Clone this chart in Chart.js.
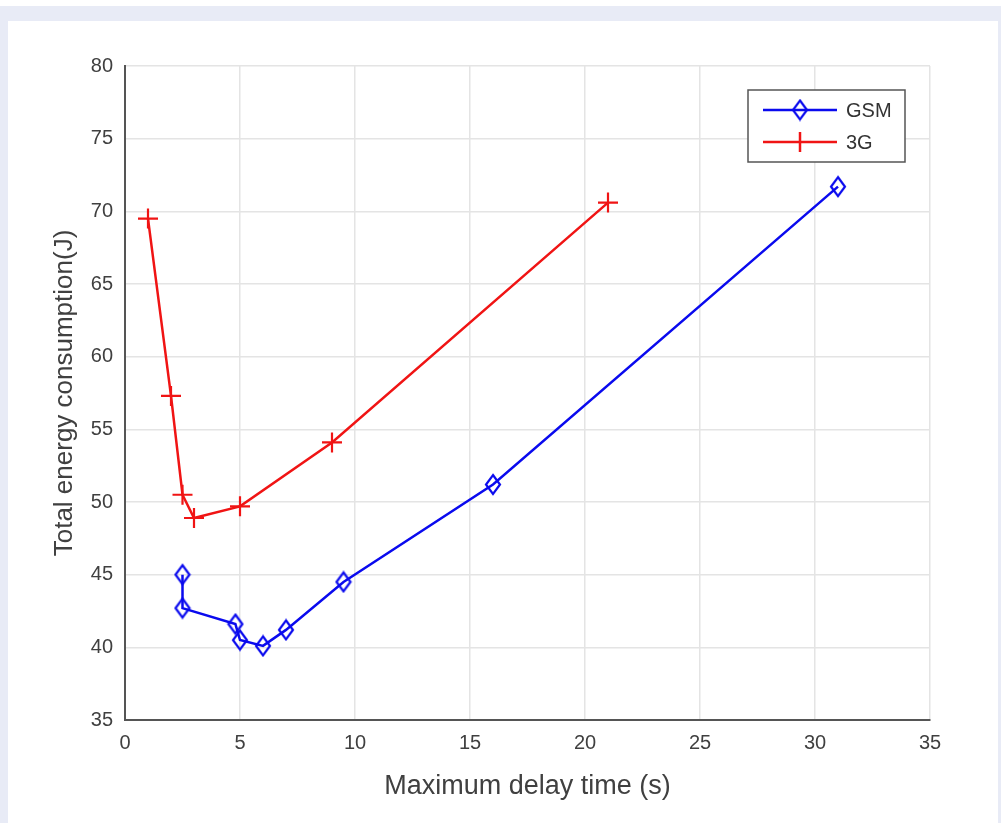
<!DOCTYPE html>
<html>
<head>
<meta charset="utf-8">
<title>Total energy consumption</title>
<script src="https://cdn.jsdelivr.net/npm/chart.js@4/dist/chart.umd.min.js"></script>
<style>
  html, body { margin: 0; padding: 0; background: #ffffff; }
  .frame { position: absolute; left: 0; top: 6px; right: 0; bottom: 0; background: #e8ebf6; }
  .panel { position: absolute; left: 8px; top: 21px; width: 990px; height: 802px; background: #ffffff; }
</style>
</head>
<body>
<div class="frame"></div>
<div class="panel"><canvas id="energyChart"></canvas></div>
<script>
// Data
const gsmDelay = [2.5, 2.5, 4.8, 5, 6, 7, 9.5, 16, 31];
const gsmEnergy = [45.0, 42.7, 41.6, 40.5, 40.1, 41.2, 44.5, 51.2, 71.7];
const g3Delay = [1, 2, 2.5, 3, 5, 9, 21];
const g3Energy = [69.5, 57.3, 50.5, 48.9, 49.7, 54.1, 70.6];
const xTicks = [0, 5, 10, 15, 20, 25, 30, 35];
const yTicks = [35, 40, 45, 50, 55, 60, 65, 70, 75, 80];
const seriesNames = ['GSM', '3G'];

const BLUE = '#0a0aee';
const RED = '#f01414';
const FONT = "'Liberation Sans', Arial, sans-serif";

function toPoints(xs, ys) {
    return xs.map((x, i) => ({ x: x, y: ys[i] }));
}

// MATLAB style diamond (a bit taller than wide)
function makeDiamond(w, h, color) {
    const c = document.createElement('canvas');
    c.width = w + 4;
    c.height = h + 4;
    const g = c.getContext('2d');
    g.strokeStyle = color;
    g.lineWidth = 2.2;
    g.beginPath();
    g.moveTo(c.width / 2, 2);
    g.lineTo(c.width - 2, c.height / 2);
    g.lineTo(c.width / 2, c.height - 2);
    g.lineTo(2, c.height / 2);
    g.closePath();
    g.stroke();
    return c;
}
const diamond = makeDiamond(14, 19, BLUE);

// Legend box inside the axes, top right
const boxLegend = {
    id: 'boxLegend',
    afterDraw(chart) {
        const { ctx, chartArea } = chart;
        const right = chartArea.right - 25;
        const top = chartArea.top + 24;
        const w = 157, h = 72;
        const left = right - w;
        ctx.save();
        ctx.fillStyle = '#ffffff';
        ctx.fillRect(left, top, w, h);
        ctx.strokeStyle = '#555555';
        ctx.lineWidth = 1.5;
        ctx.strokeRect(left, top, w, h);
        const rows = [
            { name: seriesNames[0], color: BLUE, y: top + 20 },
            { name: seriesNames[1], color: RED, y: top + 52 }
        ];
        rows.forEach((r, i) => {
            ctx.strokeStyle = r.color;
            ctx.lineWidth = 2.5;
            ctx.beginPath();
            ctx.moveTo(left + 15, r.y);
            ctx.lineTo(left + 89, r.y);
            ctx.stroke();
            const mx = left + 52;
            if (i === 0) {
                ctx.drawImage(diamond, mx - diamond.width / 2, r.y - diamond.height / 2);
            } else {
                ctx.beginPath();
                ctx.moveTo(mx, r.y - 10);
                ctx.lineTo(mx, r.y + 10);
                ctx.stroke();
            }
            ctx.fillStyle = '#333333';
            ctx.font = '20px ' + FONT;
            ctx.textBaseline = 'middle';
            ctx.fillText(r.name, left + 98, r.y + 1);
        });
        ctx.restore();
    }
};

const ctx = document.getElementById('energyChart').getContext('2d');

new Chart(ctx, {
    type: 'scatter',
    data: {
        datasets: [{
            label: seriesNames[0],
            data: toPoints(gsmDelay, gsmEnergy),
            showLine: true,
            borderColor: BLUE,
            backgroundColor: BLUE,
            borderWidth: 2.5,
            pointStyle: diamond,
            pointRadius: 9
        }, {
            label: seriesNames[1],
            data: toPoints(g3Delay, g3Energy),
            showLine: true,
            borderColor: RED,
            backgroundColor: RED,
            borderWidth: 2.5,
            pointStyle: 'cross',
            pointRadius: 10,
            pointBorderWidth: 2.2
        }]
    },
    options: {
        responsive: true,
        maintainAspectRatio: false,
        animation: false,
        layout: {
            padding: { top: 45, right: 68, left: 0, bottom: 0 }
        },
        plugins: {
            legend: { display: false },
            tooltip: { enabled: false }
        },
        scales: {
            x: {
                type: 'linear',
                min: 0,
                max: 35,
                afterFit: function (scale) { scale.height = 103; },
                afterBuildTicks: function (scale) {
                    scale.ticks = xTicks.map(v => ({ value: v }));
                },
                border: { color: '#555555', width: 2 },
                grid: { color: '#e4e4e4', lineWidth: 1.5, drawTicks: false },
                ticks: {
                    color: '#404040',
                    padding: 11,
                    font: { size: 20, family: FONT }
                },
                title: {
                    display: true,
                    text: 'Maximum delay time (s)',
                    color: '#404040',
                    padding: { bottom: 20 },
                    font: { size: 27, family: FONT }
                }
            },
            y: {
                type: 'linear',
                min: 35,
                max: 80,
                afterFit: function (scale) { scale.width = 117; },
                afterBuildTicks: function (scale) {
                    scale.ticks = yTicks.map(v => ({ value: v }));
                },
                border: { color: '#555555', width: 2 },
                grid: { color: '#e4e4e4', lineWidth: 1.5, drawTicks: false },
                ticks: {
                    color: '#404040',
                    padding: 12,
                    font: { size: 20, family: FONT }
                },
                title: {
                    display: true,
                    text: 'Total energy consumption(J)',
                    color: '#404040',
                    padding: { top: 41 },
                    font: { size: 26, family: FONT }
                }
            }
        }
    },
    plugins: [boxLegend]
});
</script>
</body>
</html>
